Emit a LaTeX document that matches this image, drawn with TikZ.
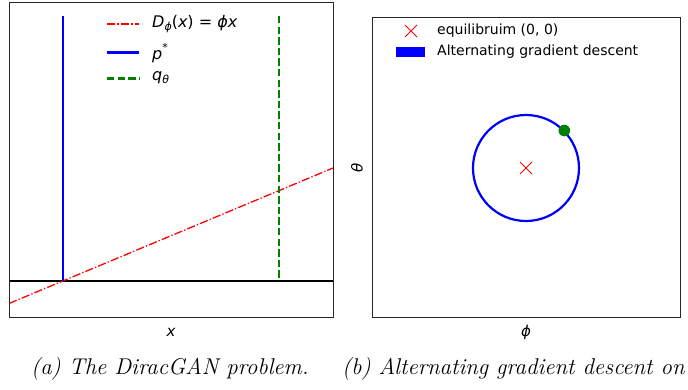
\documentclass[tikz,border=0pt]{standalone}
\usepackage{fontspec}
\newfontfamily\dv{DejaVu Sans}
\definecolor{mblue}{RGB}{0,0,255}
\definecolor{mgreen}{RGB}{0,128,0}
\definecolor{mred}{RGB}{255,0,0}
\newcommand{\mi}[1]{{\dv\itshape #1}}
\begin{document}
\begin{tikzpicture}[x=1pt,y=-1pt,
  frame/.style={draw=black!85,line width=0.8pt},
  txt/.style={font=\dv\fontsize{14}{16}\selectfont,inner sep=0pt,anchor=west},
  ltxt/.style={font=\dv\fontsize{16}{18}\selectfont,inner sep=0pt,anchor=west},
  lab/.style={font=\dv\fontsize{15}{17}\selectfont,inner sep=0pt},
  captxt/.style={font=\fontsize{22.8}{26}\selectfont\itshape,inner sep=0pt,anchor=west},
  pline/.style={mblue,line width=2.8pt},
  qline/.style={mgreen,line width=2.8pt,dash pattern=on 7.4pt off 3.2pt},
  dline/.style={mred,line width=1.3pt,dash pattern=on 8.3pt off 2.1pt on 1.3pt off 2.1pt},
  zline/.style={black,line width=2.2pt}]
\useasboundingbox (0,0) rectangle (688,389);
\clip (0,0) rectangle (688,389);
% ---------- left panel ----------
\begin{scope}
\clip (9,2) rectangle (333,317);
\draw[zline] (9,281) -- (333,281);
\draw[dline] (9,303.5) -- (333,168);
\draw[pline] (63,16) -- (63,281);
\draw[qline] (279,16) -- (279,281);
\end{scope}
\draw[frame] (9,2) rectangle (333,317);
% legend left
\draw[dline] (107,24) -- (139,24);
\node[ltxt] (ld) at (152,24) {\mi{D}\raisebox{-0.35ex}{\fontsize{11}{12}\selectfont\mi{ϕ}}(\mi{x}) = \mi{ϕx}};
\draw[pline,line width=3pt] (107,52) -- (139,52);
\node[ltxt] (lp) at (152,53) {\mi{p}\raisebox{0.9ex}{\fontsize{11}{12}\selectfont *}};
\draw[qline,line width=3pt] (107,78) -- (139,78);
\node[ltxt] (lq) at (152,78) {\mi{q}\raisebox{-0.35ex}{\fontsize{11}{12}\selectfont\mi{θ}}};
\node[lab] (xl) at (171,332) {\mi{x}};
% ---------- right panel ----------
\draw[frame] (372,17) rectangle (680,317);
\draw[mblue,line width=2.2pt] (526,168) circle (53);
\fill[mgreen] (564.3,130.5) circle (5.8);
\draw[mred,line width=0.9pt] (520,162) -- (532,174) (520,174) -- (532,162);
% legend right
\draw[mred,line width=0.9pt] (405,25) -- (417,37) (405,37) -- (417,25);
\node[txt] (le) at (437,31) {equilibruim (0, 0)};
\fill[mblue] (396,46.7) rectangle (425,56.7);
\node[txt] (la) at (437,51.5) {Alternating gradient descent};
\node[lab] (pl) at (526,332) {\mi{ϕ}};
\node[lab,rotate=90] (tl) at (357,168) {\mi{θ}};
% ---------- captions ----------
\node[captxt] (ca) at (31,369) {(a) The DiracGAN problem.};
\node[captxt] (cb) at (342,369) {(b) Alternating gradient descent on};
\end{tikzpicture}
\end{document}
